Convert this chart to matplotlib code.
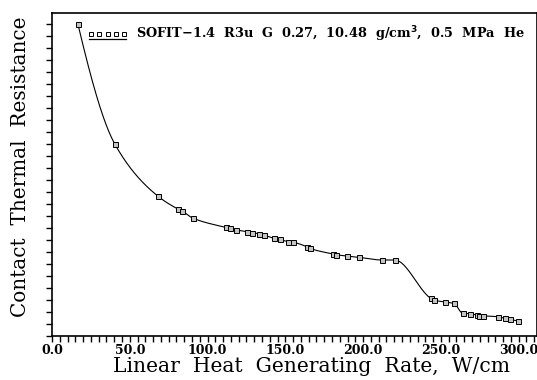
import numpy as np
import matplotlib
matplotlib.use("Agg")
import matplotlib.pyplot as plt
from matplotlib.ticker import MultipleLocator, FixedLocator, NullFormatter

# ---- data ----
lhgr = [16.6, 40.4, 68.0, 80.9, 83.9, 90.4, 111.6, 114.3, 118.0, 125.1, 128.7,
        133.4, 136.2, 142.6, 146.3, 151.9, 155.1, 163.7, 165.8, 180.6, 182.8,
        189.4, 197.3, 212.3, 220.3, 243.4, 245.5, 252.6, 258.4, 264.0, 268.7,
        273.2, 274.7, 277.3, 286.7, 291.0, 294.2, 299.5]
resistance = [26.0, 15.97, 11.64, 10.56, 10.37, 9.81, 9.03, 8.95, 8.83, 8.67, 8.58,
              8.50, 8.39, 8.12, 8.03, 7.83, 7.78, 7.42, 7.28, 6.81, 6.75,
              6.64, 6.53, 6.31, 6.31, 3.12, 2.97, 2.81, 2.70, 1.87, 1.83,
              1.72, 1.64, 1.64, 1.58, 1.45, 1.37, 1.22]
x_ticks = [0, 50, 100, 150, 200, 250, 300]
x_tick_labels = ["0.0", "50.0", "100.0", "150.0", "200.0", "250.0", "300.0"]
legend_label = "SOFIT\u22121.4  R3u  G  0.27,  10.48  g/cm$^\\mathbf{3}$,  0.5  MPa  He"


def pchip_curve(x, y, n=1500):
    """Smooth monotone rendering of the polyline for drawing."""
    x = np.asarray(x, float)
    y = np.asarray(y, float)
    h = np.diff(x)
    d = np.diff(y) / h
    m = np.zeros_like(y)
    for k in range(1, len(x) - 1):
        if d[k - 1] * d[k] <= 0:
            m[k] = 0.0
        else:
            w1 = 2 * h[k] + h[k - 1]
            w2 = h[k] + 2 * h[k - 1]
            m[k] = (w1 + w2) / (w1 / d[k - 1] + w2 / d[k])
    m[0] = ((2 * h[0] + h[1]) * d[0] - h[0] * d[1]) / (h[0] + h[1])
    if np.sign(m[0]) != np.sign(d[0]):
        m[0] = 0
    m[-1] = ((2 * h[-1] + h[-2]) * d[-1] - h[-1] * d[-2]) / (h[-1] + h[-2])
    if np.sign(m[-1]) != np.sign(d[-1]):
        m[-1] = 0
    xs = np.linspace(x[0], x[-1], n)
    idx = np.clip(np.searchsorted(x, xs) - 1, 0, len(x) - 2)
    t = (xs - x[idx]) / h[idx]
    h00 = 2 * t**3 - 3 * t**2 + 1
    h10 = t**3 - 2 * t**2 + t
    h01 = -2 * t**3 + 3 * t**2
    h11 = t**3 - t**2
    ys = h00 * y[idx] + h10 * h[idx] * m[idx] + h01 * y[idx + 1] + h11 * h[idx] * m[idx + 1]
    return xs, ys


W, H = 537, 380
AX_L, AX_R, AX_T, AX_B = 52, 536.5, 13.3, 335.7
fig = plt.figure(figsize=(W / 100, H / 100), dpi=100)
ax = fig.add_axes([AX_L / W, 1 - AX_B / H, (AX_R - AX_L) / W, (AX_B - AX_T) / H])

xs, ys = pchip_curve(lhgr, resistance)
ax.plot(xs, ys, color="black", lw=0.8, zorder=2)
ax.plot(lhgr, resistance, linestyle="none", marker="s", markersize=3.6,
        markerfacecolor="#c4c4c4", markeredgecolor="black", markeredgewidth=0.7, zorder=3)

ax.set_xlim(0, 311.5)
ax.set_ylim(0, 26.87)

ax.xaxis.set_major_locator(FixedLocator(x_ticks))
ax.set_xticklabels(x_tick_labels, fontfamily="DejaVu Serif", fontweight="bold", fontsize=9)
ax.xaxis.set_minor_locator(MultipleLocator(5))
ax.yaxis.set_major_locator(MultipleLocator(1))
ax.yaxis.set_major_formatter(NullFormatter())
ax.tick_params(axis="both", which="both", direction="out", length=4, width=1, color="black")
ax.tick_params(axis="x", which="major", pad=2)
ax.tick_params(top=False, right=False)
for s in ax.spines.values():
    s.set_linewidth(1.2)

ax.set_xlabel("Linear  Heat  Generating  Rate,  W/cm", fontfamily="DejaVu Serif",
              fontsize=14.6)
ax.xaxis.set_label_coords((311 - AX_L) / (AX_R - AX_L), (AX_B - 366.5) / (AX_B - AX_T))
ax.xaxis.label.set_va("center")
ax.set_ylabel("Contact  Thermal  Resistance", fontfamily="DejaVu Serif", fontsize=14.4)
ax.yaxis.set_label_coords((21 - AX_L) / (AX_R - AX_L), (AX_B - 166.5) / (AX_B - AX_T))
ax.yaxis.label.set_va("center")

# legend (drawn in axes-fraction coordinates)
def px2ax(px, py):
    return ((px - AX_L) / (AX_R - AX_L), (AX_B - py) / (AX_B - AX_T))

lx0, ly = px2ax(89, 34)
lx1, ly2 = px2ax(126, 38.5)
ax.plot([lx0, lx1], [ly2, ly2], color="black", lw=0.9, transform=ax.transAxes)
ax.plot(np.linspace(lx0 + 0.004, lx1 - 0.004, 5), [ly] * 5, linestyle="none", marker="s",
        markersize=3.0, markerfacecolor="white", markeredgecolor="black",
        markeredgewidth=0.7, transform=ax.transAxes)
tx, ty = px2ax(136, 34)
ax.text(tx, ty, legend_label, transform=ax.transAxes, fontfamily="DejaVu Serif",
        fontweight="bold", fontsize=9.3, va="center", ha="left")

fig.savefig("out.png", dpi=100)
